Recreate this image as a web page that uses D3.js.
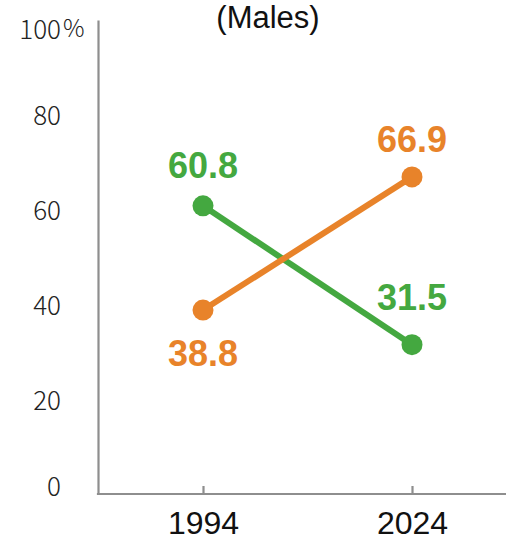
<!DOCTYPE html>
<html>
<head>
<meta charset="utf-8">
<script src="https://cdn.jsdelivr.net/npm/d3@7"></script>
<style>
  html, body { margin: 0; padding: 0; background: #fff; }
  svg { display: block; }
</style>
</head>
<body>
<svg id="chart" width="506" height="538"></svg>
<script>
// Share of males by answer, 1994 vs 2024
const years = ["1994", "2024"];
const greenValues = [60.8, 31.5];
const orangeValues = [38.8, 66.9];
const yTicks = [0, 20, 40, 60, 80, 100];
const title = "(Males)";

const GREEN = "#44a840";
const ORANGE = "#e8832a";
const AXIS = "#8e8e8e";

const svg = d3.select("#chart");

const y = d3.scaleLinear().domain([0, 100]).range([494, 20]);
const x = d3.scalePoint().domain(years).range([203, 412]);
const axisLeftX = 98;
const axisRightX = 506;

// Title
svg.append("text")
  .attr("x", 268)
  .attr("y", 28)
  .attr("text-anchor", "middle")
  .attr("font-family", "'Liberation Sans', Arial, sans-serif")
  .attr("font-size", 31)
  .attr("fill", "#111")
  .text(title);

// Y axis
const yAxis = d3.axisLeft(y)
  .tickValues(yTicks)
  .tickSize(0)
  .tickPadding(37)
  .tickFormat(d3.format("d"));

const gy = svg.append("g")
  .attr("transform", `translate(${axisLeftX},0)`)
  .call(yAxis);
gy.select(".domain").attr("stroke", AXIS).attr("stroke-width", 2.2);
gy.selectAll(".tick text")
  .attr("font-family", "'Noto Sans CJK JP', 'Noto Sans', sans-serif")
  .attr("font-size", 26)
  .attr("font-weight", 300)
  .attr("fill", "#222")
  .attr("dy", d => d === 0 ? "0.05em" : d === 100 ? "0.7em" : "0.38em");

// Percent sign after the top tick label
svg.append("text")
  .attr("x", 63)
  .attr("y", y(100))
  .attr("dy", "0.7em")
  .attr("font-family", "'Noto Sans CJK JP', 'Noto Sans', sans-serif")
  .attr("font-size", 24)
  .attr("font-weight", 300)
  .attr("fill", "#222")
  .text("%");

// X axis: baseline, inward ticks, year labels
svg.append("line")
  .attr("x1", axisLeftX - 1.1)
  .attr("x2", axisRightX)
  .attr("y1", y(0))
  .attr("y2", y(0))
  .attr("stroke", AXIS)
  .attr("stroke-width", 2.2);

const xAxis = d3.axisBottom(x)
  .tickSizeInner(-8)
  .tickSizeOuter(0)
  .tickPadding(17);

const gx = svg.append("g")
  .attr("transform", `translate(0,${y(0)})`)
  .call(xAxis);
gx.select(".domain").remove();
gx.selectAll(".tick line").attr("stroke", AXIS).attr("stroke-width", 2.2);
gx.selectAll(".tick text")
  .attr("font-family", "'Liberation Sans', Arial, sans-serif")
  .attr("font-size", 32)
  .attr("fill", "#111");

// Series
const series = [
  { name: "green", color: GREEN, values: greenValues, labelDy: [-28, -35] },
  { name: "orange", color: ORANGE, values: orangeValues, labelDy: [56, -25] }
];

const line = d3.line()
  .x((d, i) => x(years[i]))
  .y(d => y(d));

series.forEach(s => {
  const g = svg.append("g").attr("class", "series-" + s.name);
  g.append("path")
    .datum(s.values)
    .attr("d", line)
    .attr("fill", "none")
    .attr("stroke", s.color)
    .attr("stroke-width", 6);

  g.selectAll("circle")
    .data(s.values)
    .join("circle")
    .attr("cx", (d, i) => x(years[i]))
    .attr("cy", d => y(d))
    .attr("r", 10.5)
    .attr("fill", s.color);

  g.selectAll("text")
    .data(s.values)
    .join("text")
    .attr("x", (d, i) => x(years[i]))
    .attr("y", (d, i) => y(d) + s.labelDy[i])
    .attr("text-anchor", "middle")
    .attr("font-family", "'Liberation Sans', Arial, sans-serif")
    .attr("font-weight", "bold")
    .attr("font-size", 36)
    .attr("fill", s.color)
    .text(d => d3.format(".1f")(d));
});
</script>
</body>
</html>
